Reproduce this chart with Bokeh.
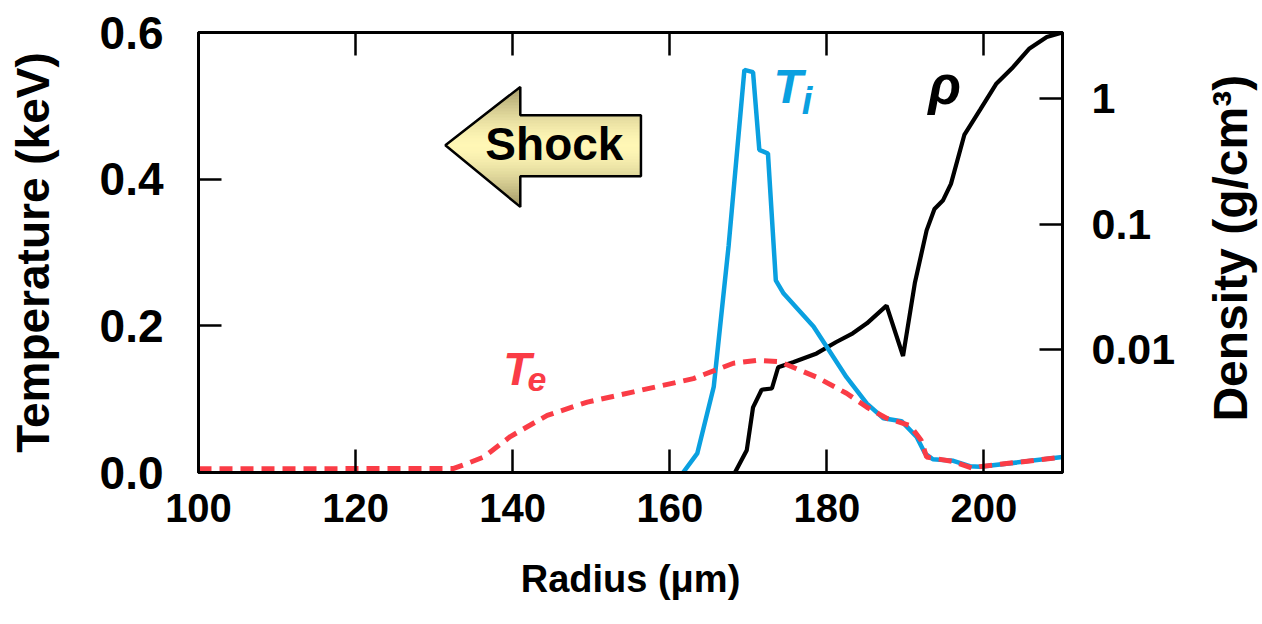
import math
from bokeh.plotting import figure
from bokeh.layouts import row
from bokeh.models import (Range1d, LogScale, LinearAxis, LogAxis, FixedTicker,
                          PrintfTickFormatter, CustomJSTickFormatter, Label)
from bokeh.embed import file_html
from bokeh.resources import INLINE

# ---------------- data ----------------
x_ticks = [100, 120, 140, 160, 180, 200]
t_ticks = [0.0, 0.2, 0.4, 0.6]
rho_ticks = [0.01, 0.1, 1]

r_ti = [161.7, 163.5, 165.6, 167.5, 169.5, 170.6, 171.4, 172.5, 173.5, 174.5,
        178.3, 180.0, 182.5, 185.1, 187.2, 189.5, 191.4, 192.5, 193.5, 196.1,
        198.2, 199.5, 210.0]
ti = [0.0, 0.026, 0.117, 0.31, 0.549, 0.546, 0.44, 0.435, 0.262, 0.244,
      0.199, 0.171, 0.130, 0.094, 0.074, 0.070, 0.049, 0.026, 0.018, 0.016,
      0.0086, 0.0077, 0.021]

r_te = [100.0, 132.5, 134.2, 136.3, 139.7, 144.4, 149.5, 155.4, 163.0, 168.1,
        171.1, 174.0, 178.7, 182.5, 185.1, 187.6, 190.6, 192.0, 192.7, 196.1,
        198.6, 199.5, 210.0]
te = [0.005, 0.0055, 0.0123, 0.021, 0.049, 0.078, 0.096, 0.110, 0.128, 0.149,
      0.153, 0.151, 0.130, 0.108, 0.089, 0.074, 0.064, 0.044, 0.021, 0.015,
      0.0055, 0.008, 0.021]

r_rho = [168.3, 169.8, 170.6, 171.7, 173.0, 173.8, 175.7, 178.7, 181.2, 183.3,
         185.1, 187.6, 189.7, 191.2, 192.7, 193.7, 194.8, 195.8, 197.5, 199.5,
         201.6, 203.7, 205.8, 208.0, 210.0]
rho = [0.00105, 0.00158, 0.00347, 0.00479, 0.0049, 0.00724, 0.00794, 0.00933,
       0.0115, 0.0135, 0.0162, 0.0224, 0.0089, 0.0339, 0.0891, 0.132, 0.155,
       0.209, 0.513, 0.813, 1.32, 1.78, 2.51, 3.09, 3.36]

# ---------------- figure ----------------
FONT = "Liberation Sans"
BLUE = "#0aa0e0"
RED = "#fa3c46"
W, H = 1178, 618

p = figure(width=W, height=H, output_backend="svg", toolbar_location=None,
           x_range=Range1d(100, 210), y_range=Range1d(0, 0.6),
           x_axis_type=None, y_axis_type=None,
           min_border_left=198, min_border_right=W - 198 - 865,
           min_border_top=32, min_border_bottom=H - 32 - 440)
p.extra_y_ranges = {"rho": Range1d(0.00105, 3.36)}
p.extra_y_scales = {"rho": LogScale()}
p.outline_line_color = "black"
p.outline_line_width = 3
p.background_fill_color = "white"
p.border_fill_color = "white"


def style_axis(ax, tick_in=23):
    ax.axis_line_color = "black"
    ax.axis_line_width = 3
    ax.major_tick_in = tick_in
    ax.major_tick_out = 0
    ax.major_tick_line_width = 2.5
    ax.major_tick_line_color = "black"
    ax.minor_tick_line_color = None
    ax.major_label_text_color = "black"
    ax.major_label_text_font_style = "bold"
    ax.axis_label_text_color = "black"
    ax.axis_label_text_font_style = "bold"


xb = LinearAxis(ticker=FixedTicker(ticks=x_ticks, minor_ticks=[]))
style_axis(xb)
xb.major_label_text_font = FONT
xb.major_label_text_font_size = "40px"
xb.major_label_standoff = 21
xb.axis_label = "Radius (μm)"
xb.axis_label_text_font = FONT
xb.axis_label_text_font_size = "38px"
xb.axis_label_standoff = 33
p.add_layout(xb, "below")

xt = LinearAxis(ticker=FixedTicker(ticks=x_ticks, minor_ticks=[]),
                formatter=CustomJSTickFormatter(code="return '';"))
style_axis(xt)
xt.major_label_standoff = 0
p.add_layout(xt, "above")

yl = LinearAxis(ticker=FixedTicker(ticks=t_ticks, minor_ticks=[]),
                formatter=PrintfTickFormatter(format="%.1f"))
style_axis(yl)
yl.major_label_text_font = FONT
yl.major_label_text_font_size = "46px"
yl.major_label_standoff = 35
yl.axis_label = "Temperature (keV)"
yl.axis_label_text_font = FONT
yl.axis_label_text_font_size = "46px"
yl.axis_label_standoff = 38
p.add_layout(yl, "left")

yr = LogAxis(y_range_name="rho",
             ticker=FixedTicker(ticks=rho_ticks, minor_ticks=[]),
             formatter=CustomJSTickFormatter(code="return tick.toString();"))
style_axis(yr)
yr.major_label_text_font = FONT
yr.major_label_text_font_size = "43px"
yr.major_label_standoff = 29
p.add_layout(yr, "right")

# ---------------- shock arrow (decoration) ----------------
tip = (131.43, 0.4463)
head_x, head_top, head_bot = 140.97, 0.5258, 0.3622
body_right, body_top, body_bot = 156.33, 0.4873, 0.4041
arrow = [tip, (head_x, head_top), (head_x, body_top), (body_right, body_top),
         (body_right, body_bot), (head_x, body_bot), (head_x, head_bot)]


def clip(pts, inside, inter):
    out = []
    for i in range(len(pts)):
        cur, prev = pts[i], pts[i - 1]
        if inside(cur):
            if not inside(prev):
                out.append(inter(prev, cur))
            out.append(cur)
        elif inside(prev):
            out.append(inter(prev, cur))
    return out


def ix(a, b, yv):
    t = (yv - a[1]) / (b[1] - a[1])
    return (a[0] + t * (b[0] - a[0]), yv)


light = (255, 247, 182)
dark = (165, 155, 105)
yc = tip[1]
half = head_top - yc
nb = 40
bxs, bys, bcols = [], [], []
for k in range(nb):
    ylo = head_bot + (head_top - head_bot) * k / nb
    yhi = head_bot + (head_top - head_bot) * (k + 1) / nb
    pts = clip(arrow, lambda q: q[1] >= ylo, lambda a, b: ix(a, b, ylo))
    if pts:
        pts = clip(pts, lambda q: q[1] <= yhi, lambda a, b: ix(a, b, yhi))
    if len(pts) < 3:
        continue
    ym = 0.5 * (ylo + yhi)
    t = min(1.0, abs(ym - yc) / half) ** 1.6
    c = tuple(int(round(light[j] + (dark[j] - light[j]) * t)) for j in range(3))
    bxs.append([q[0] for q in pts])
    bys.append([q[1] for q in pts])
    bcols.append("#%02x%02x%02x" % c)

p.patches(bxs, bys, fill_color=bcols, line_color=bcols, line_width=1)
p.patch([q[0] for q in arrow], [q[1] for q in arrow], fill_color=None,
        line_color="black", line_width=2.5)
p.add_layout(Label(x=145.31, y=0.448, text="Shock", text_font=FONT,
                   text_font_size="46px", text_font_style="bold",
                   text_align="center", text_baseline="alphabetic",
                   text_color="black"))

# ---------------- curves ----------------
p.line(r_rho, rho, y_range_name="rho", line_color="black", line_width=4.2)
p.line(r_ti, ti, line_color=BLUE, line_width=4.5)
p.line(r_te, te, line_color=RED, line_width=5, line_dash="13 8")

# ---------------- curve labels ----------------
def lab(x, y, text, size, color):
    p.add_layout(Label(x=x, y=y, text=text, text_font=FONT,
                       text_font_size=size, text_font_style="bold italic",
                       text_color=color, text_align="left",
                       text_baseline="alphabetic"))


lab(173.2, 0.526, "T", "48px", BLUE)
lab(176.8, 0.507, "i", "38px", BLUE)
lab(192.9, 0.528, "ρ", "54px", "black")
lab(138.8, 0.141, "T", "46px", RED)
lab(141.9, 0.127, "e", "34px", RED)

# ---------------- right-hand axis title (reads bottom to top) ----------------
W2 = 80
p2 = figure(width=W2, height=H, output_backend="svg", toolbar_location=None,
            x_range=Range1d(0, W2), y_range=Range1d(0, H),
            x_axis_type=None, y_axis_type=None, min_border=0)
p2.outline_line_color = None
p2.background_fill_color = "white"
p2.border_fill_color = "white"
p2.add_layout(Label(x=1230 - W, y=H - 303, text="Density (g/cm³)",
                    text_font=FONT, text_font_size="48px",
                    text_font_style="bold", text_color="black",
                    angle=math.pi / 2, text_align="center",
                    text_baseline="middle"))

layout = row(p, p2, spacing=0)
open("out.html", "w").write(file_html(layout, INLINE))
